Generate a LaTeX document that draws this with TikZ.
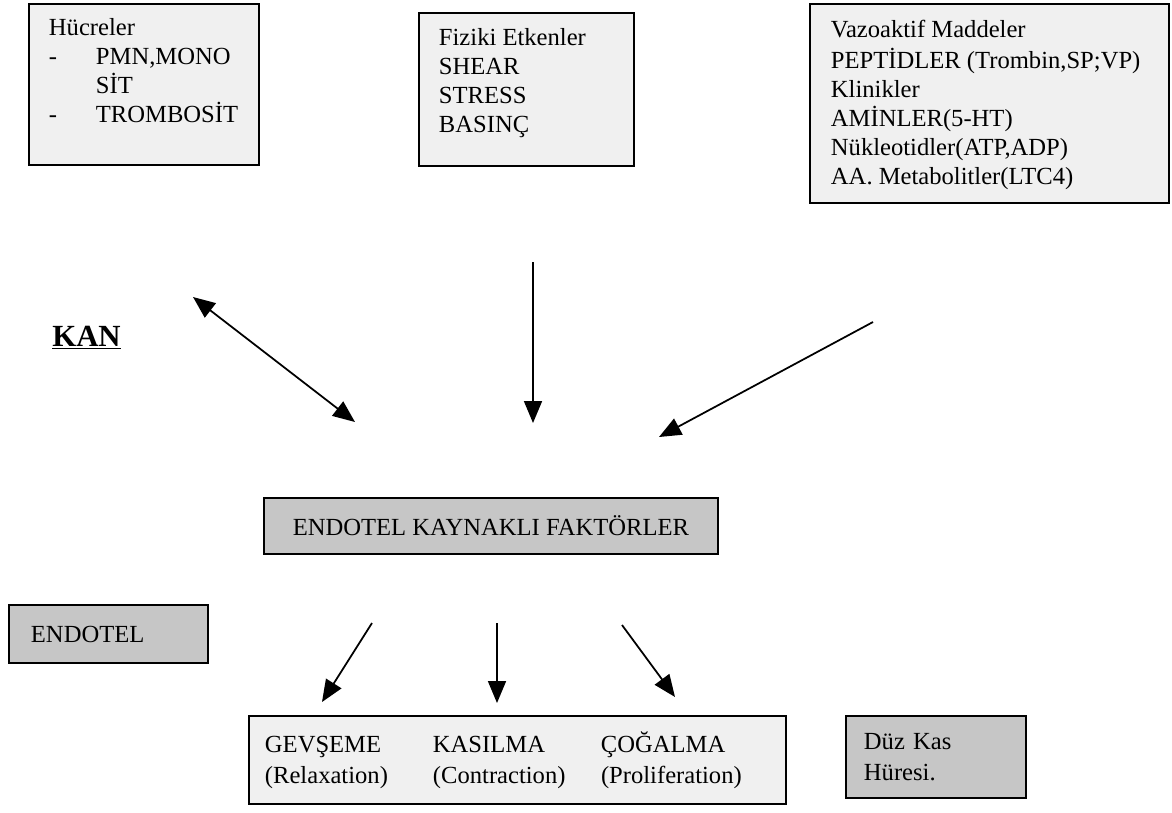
\documentclass[tikz,border=0pt]{standalone}
\usepackage{fontspec}
\setmainfont{Liberation Serif}
\usetikzlibrary{arrows.meta}
\tikzset{
	>={Triangle[length=0.44cm, width=0.36cm]},
	lightbox/.style = {
		draw, line width=1.1pt, fill=gray!12, anchor=north west,
		font=\fontsize{14}{16.5}\selectfont
	},
	darkbox/.style = {lightbox, fill=gray!45},
	link/.style = {line width=1pt}
}

\begin{document}
\begin{tikzpicture}
	\useasboundingbox (0, 0) rectangle (23.44, -16.24);
	\node (cells) [lightbox, inner xsep=0.4cm, inner ysep=0.232cm] at (0.56, -0.06) {%
		\parbox[t][2.756cm][t]{3.8cm}{\strut Hücreler\\
		\makebox[0.94cm][l]{-}PMN,MONO\\
		\hspace*{0.94cm}SİT\\
		\makebox[0.94cm][l]{-}TROMBOSİT}
	};
	\node (physical) [lightbox, inner xsep=0.4cm, inner ysep=0.252cm] at (8.36, -0.24) {%
		\parbox[t][2.556cm][t]{3.5cm}{\strut Fiziki Etkenler\\
		SHEAR\\
		STRESS\\
		BASINÇ}
	};
	\node (vasoactive) [lightbox, inner xsep=0.42cm, inner ysep=0.272cm] at (16.18, -0.06) {%
		\parbox[t][3.436cm][t]{6.34cm}{\strut Vazoaktif Maddeler\\
		PEPTİDLER (Trombin,SP;VP)\\
		Klinikler\\
		AMİNLER(5-HT)\\
		Nükleotidler(ATP,ADP)\\
		AA. Metabolitler(LTC4)}
	};
	\node (blood) [anchor=base west, inner sep=0pt, font=\fontsize{17.5}{20}\selectfont\bfseries] at (1.04, -6.92) {\underline{KAN}};
	\node (factors) [darkbox, align=center, minimum width=9.08cm, minimum height=1.12cm] at (5.26, -9.94) {ENDOTEL KAYNAKLI FAKTÖRLER};
	\node (endothel) [darkbox, align=left, text width=3.1cm, inner xsep=0.44cm, minimum height=1.16cm] at (0.16, -12.08) {ENDOTEL};
	\node (effects) [lightbox, align=left, text width=10.1cm, inner xsep=0.32cm, minimum height=1.76cm] at (4.96, -14.3) {%
		\makebox[3.36cm][l]{GEVŞEME}\makebox[3.36cm][l]{KASILMA}ÇOĞALMA\\[1pt]
		\makebox[3.36cm][l]{(Relaxation)}\makebox[3.36cm][l]{(Contraction)}(Proliferation)
	};
	\node (muscle) [darkbox, align=left, text width=2.88cm, inner xsep=0.36cm, minimum height=1.64cm] at (16.9, -14.3) {%
		Düz Kas\\[1pt]
		Hüresi.
	};
	\coordinate (bloodA) at (3.86, -5.94);
	\coordinate (bloodB) at (7.10, -8.44);
	\coordinate (physA) at (10.66, -5.24);
	\coordinate (physB) at (10.66, -8.46);
	\coordinate (vasoA) at (17.46, -6.44);
	\coordinate (vasoB) at (13.18, -8.74);
	\coordinate (relaxA) at (7.44, -12.46);
	\coordinate (relaxB) at (6.44, -14.04);
	\coordinate (contrA) at (9.94, -12.46);
	\coordinate (contrB) at (9.94, -14.06);
	\coordinate (prolA) at (12.44, -12.5);
	\coordinate (prolB) at (13.5, -13.94);
	\draw [link, <->] (bloodA) -- (bloodB);
	\draw [link, ->] (physA) -- (physB);
	\draw [link, ->] (vasoA) -- (vasoB);
	\draw [link, ->] (relaxA) -- (relaxB);
	\draw [link, ->] (contrA) -- (contrB);
	\draw [link, ->] (prolA) -- (prolB);
\end{tikzpicture}
\end{document}
